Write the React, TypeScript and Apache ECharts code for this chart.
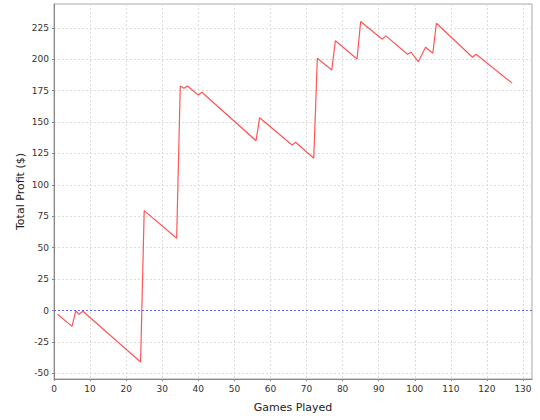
import React, { useEffect, useRef } from "react";
import * as echarts from "echarts";

const games = [1, 5, 6, 7, 8, 24, 25, 34, 35, 36, 37, 40, 41, 56, 57, 66, 67, 72, 73, 77, 78, 84, 85, 91, 92, 98, 99, 101, 103, 105, 106, 116, 117, 127];
const profit = [-3, -12.6, -0.4, -3, -0.6, -41, 79.5, 57.5, 178.7, 177, 178.7, 171.5, 173.7, 135.2, 153.5, 131.8, 133.9, 121.2, 200.8, 191.5, 214.8, 200.2, 230, 216, 218.6, 204, 205.6, 198, 209.6, 204.8, 228.7, 201.6, 204, 181];
const xTicks = [0, 10, 20, 30, 40, 50, 60, 70, 80, 90, 100, 110, 120, 130];
const yTicks = [-50, -25, 0, 25, 50, 75, 100, 125, 150, 175, 200, 225];

export default function App() {
  const ref = useRef<HTMLDivElement>(null);
  useEffect(() => {
    const chart = echarts.init(ref.current!, null, { renderer: "svg" });
    const font = "DejaVu Sans";
    chart.setOption({
      animation: false,
      backgroundColor: "#ffffff",
      grid: {
        left: 54,
        right: 8,
        top: 4,
        bottom: 41,
        show: true,
        borderColor: "#a8a8a8",
        borderWidth: 1,
        backgroundColor: "#ffffff",
      },
      xAxis: {
        type: "value",
        min: 0,
        max: 132.5,
        name: "Games Played",
        nameLocation: "middle",
        nameGap: 23,
        nameTextStyle: { fontFamily: font, fontSize: 11, color: "#222" },
        axisLine: { show: true, onZero: false, lineStyle: { color: "#888", width: 1 } },
        axisTick: { show: true, length: 2, lineStyle: { color: "#888" }, customValues: xTicks },
        axisLabel: { fontFamily: font, fontSize: 9, color: "#333", margin: 5, customValues: xTicks },
        splitLine: { show: true, lineStyle: { color: "#dcdcdc", type: [2, 2], width: 1 } },
      },
      yAxis: {
        type: "value",
        min: -54.5,
        max: 244,
        name: "Total Profit ($)",
        nameLocation: "middle",
        nameGap: 28,
        nameMoveOverlap: false,
        nameRotate: 90,
        nameTextStyle: { fontFamily: font, fontSize: 11, color: "#222" },
        axisLine: { show: true, onZero: false, lineStyle: { color: "#888", width: 1 } },
        axisTick: { show: true, length: 2, lineStyle: { color: "#888" }, customValues: yTicks },
        axisLabel: { fontFamily: font, fontSize: 9, color: "#333", margin: 5, customValues: yTicks },
        splitLine: { show: true, lineStyle: { color: "#dcdcdc", type: [2, 2], width: 1 } },
      },
      series: [
        {
          type: "line",
          data: games.map((g, i) => [g, profit[i]]),
          showSymbol: false,
          symbol: "none",
          lineStyle: { color: "#ff5555", width: 1.2 },
          itemStyle: { color: "#ff5555" },
          markLine: {
            silent: true,
            symbol: "none",
            label: { show: false },
            lineStyle: { color: "#6666ff", type: [2, 2], width: 1 },
            data: [{ yAxis: 0 }],
          },
        },
      ],
    });
    return () => chart.dispose();
  }, []);
  return <div ref={ref} style={{ position: "absolute", left: 0, top: 0, width: 540, height: 420 }} />;
}
